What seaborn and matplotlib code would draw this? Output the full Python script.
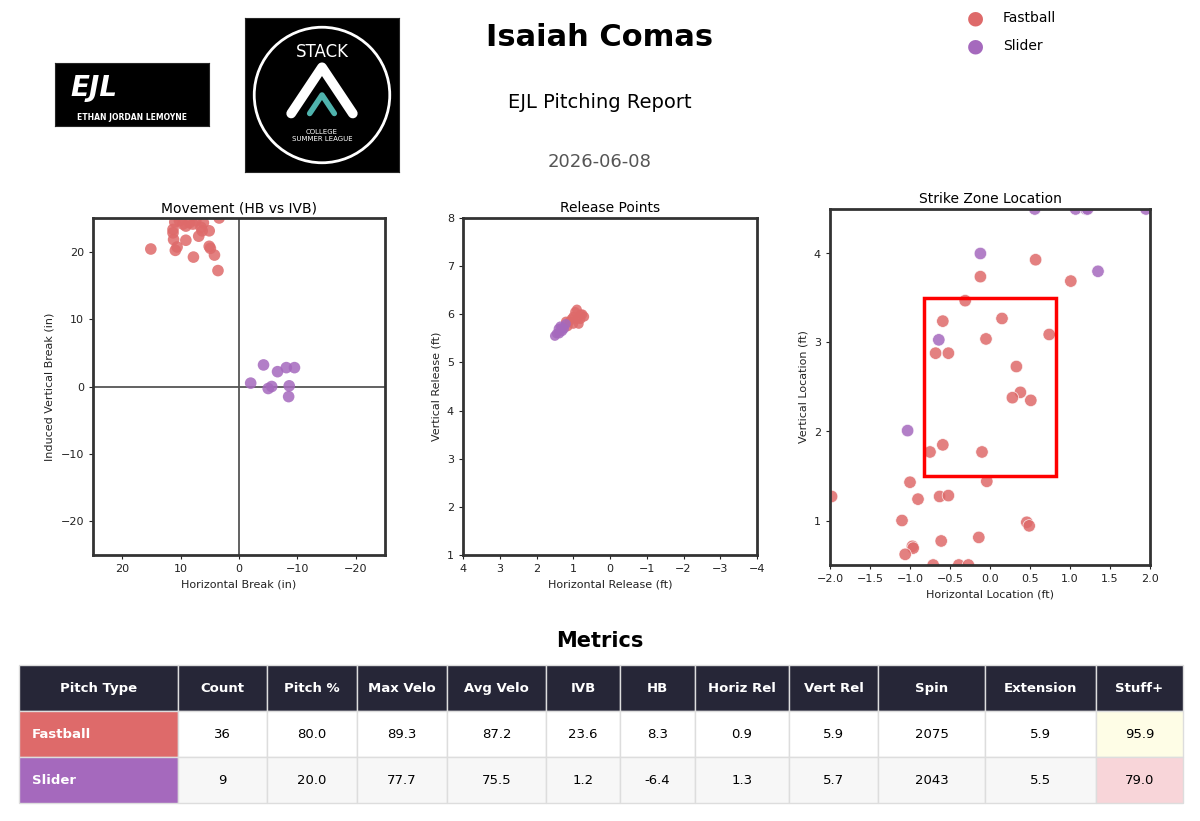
import matplotlib.pyplot as plt
import seaborn as sns
import pandas as pd
from matplotlib.patches import Rectangle

# ---- data ----
fb_hb = [15.1, 11.3, 11.2, 10.9, 10.6, 9.1, 7.8, 6.9, 6.3, 5.1, 5.1, 4.9, 4.2, 3.6,
         11.0, 9.6, 8.5, 7.9, 7.4, 10.2, 9.1, 6.1, 3.4, 11.3, 6.5]
fb_ivb = [20.4, 22.8, 21.8, 20.2, 20.7, 21.7, 19.2, 22.3, 23.1, 23.1, 20.8, 20.5, 19.5, 17.2,
          24.4, 24.1, 24.3, 24.1, 24.6, 24.6, 23.8, 24.3, 25.0, 23.3, 23.6]
sl_hb = [-2.0, -4.2, -5.0, -5.6, -6.6, -8.1, -8.6, -8.5, -9.5]
sl_ivb = [0.5, 3.2, -0.3, 0.0, 2.2, 2.8, 0.1, -1.5, 2.8]

fb_relx = [0.8, 0.9, 1.0, 1.1, 0.95, 0.85, 1.05, 1.15, 0.75, 0.9, 1.0, 0.8, 1.2, 0.7]
fb_relz = [6.0, 5.9, 5.95, 5.85, 6.05, 5.8, 5.9, 5.75, 6.0, 6.1, 5.8, 5.9, 5.85, 5.95]
sl_relx = [1.45, 1.4, 1.3, 1.35, 1.25, 1.5, 1.2, 1.38, 1.3]
sl_relz = [5.6, 5.7, 5.65, 5.75, 5.7, 5.55, 5.8, 5.6, 5.72]

fb_px = [-0.12, 0.57, 1.01, -0.31, -0.59, 0.15, 0.74, -0.05, -0.68, -0.52, 0.33, 0.38, 0.28, 0.51,
         -0.59, -0.75, -0.10, -0.04, -1.0, -1.98, -0.63, -0.52, -0.9, -1.1, 0.46, 0.49, -0.14,
         -0.61, -0.97, -0.96, -1.06, -0.71, -0.39, -0.27]
fb_pz = [3.74, 3.93, 3.69, 3.47, 3.24, 3.27, 3.09, 3.04, 2.88, 2.88, 2.73, 2.44, 2.38, 2.35,
         1.85, 1.77, 1.77, 1.44, 1.43, 1.27, 1.27, 1.28, 1.24, 1.0, 0.98, 0.94, 0.81,
         0.77, 0.71, 0.69, 0.62, 0.5, 0.5, 0.5]
sl_px = [0.56, 1.07, 1.2, 1.22, 1.95, -0.12, 1.35, -0.64, -1.03]
sl_pz = [4.5, 4.5, 4.5, 4.5, 4.5, 4.0, 3.8, 3.03, 2.01]

col_labels = ["Pitch Type", "Count", "Pitch %", "Max Velo", "Avg Velo", "IVB", "HB",
              "Horiz Rel", "Vert Rel", "Spin", "Extension", "Stuff+"]
fastball_row = ["Fastball", "36", "80.0", "89.3", "87.2", "23.6", "8.3", "0.9", "5.9", "2075", "5.9", "95.9"]
slider_row = ["Slider", "9", "20.0", "77.7", "75.5", "1.2", "-6.4", "1.3", "5.7", "2043", "5.5", "79.0"]

colors = {"Fastball": "#de6a6a", "Slider": "#a569bd"}

def frame(xs, ys, name):
    return pd.DataFrame({"x": xs, "y": ys, "pitch": name})

mov = pd.concat([frame(fb_hb, fb_ivb, "Fastball"), frame(sl_hb, sl_ivb, "Slider")])
rel = pd.concat([frame(fb_relx, fb_relz, "Fastball"), frame(sl_relx, sl_relz, "Slider")])
loc = pd.concat([frame(fb_px, fb_pz, "Fastball"), frame(sl_px, sl_pz, "Slider")])

sns.set_style("white")
plt.rcParams.update({"text.color": "black", "axes.labelcolor": "#222222",
                     "xtick.color": "#222222", "ytick.color": "#222222"})
fig = plt.figure(figsize=(12, 8.21), dpi=100)
W, H = 1200, 821

def px_axes(x0, y0, x1, y1):
    return fig.add_axes([x0 / W, 1 - y1 / H, (x1 - x0) / W, (y1 - y0) / H])

# ---- header ----
fig.text(0.5, 1 - 38 / H, "Isaiah Comas", ha="center", va="center", fontsize=22, fontweight="bold")
fig.text(0.5, 1 - 103 / H, "EJL Pitching Report", ha="center", va="center", fontsize=14)
fig.text(0.5, 1 - 162 / H, "2026-06-08", ha="center", va="center", fontsize=13, color="#555555")

lg = px_axes(55, 63, 209, 126)
lg.set_facecolor("black"); lg.set_xticks([]); lg.set_yticks([])
lg.text(0.1, 0.6, "EJL", color="white", fontsize=20, fontweight="bold", fontstyle="italic",
        transform=lg.transAxes, va="center")
lg.text(0.5, 0.13, "ETHAN JORDAN LEMOYNE", color="white", fontsize=5.5, fontweight="bold",
        transform=lg.transAxes, ha="center", va="center")
sk = px_axes(245, 18, 399, 172)
sk.set_facecolor("black"); sk.set_xticks([]); sk.set_yticks([])
sk.add_patch(plt.Circle((0.5, 0.5), 0.44, fill=False, ec="white", lw=2, transform=sk.transAxes))
sk.text(0.5, 0.78, "STACK", color="white", fontsize=12, ha="center", va="center", transform=sk.transAxes)
sk.plot([0.3, 0.5, 0.7], [0.38, 0.68, 0.38], color="white", lw=7, transform=sk.transAxes)
sk.plot([0.42, 0.5, 0.58], [0.38, 0.5, 0.38], color="#4fb3ad", lw=4, transform=sk.transAxes)
sk.text(0.5, 0.24, "COLLEGE\nSUMMER LEAGUE", color="white", fontsize=5, ha="center", va="center",
        transform=sk.transAxes)

for i, (name, c) in enumerate(colors.items()):
    fig.text(975 / W, 1 - (18 + 28 * i) / H, "\u25CF", color=c, fontsize=14, ha="center", va="center")
    fig.text(1003 / W, 1 - (18 + 28 * i) / H, name, fontsize=10, va="center")

def style(ax, title, xlabel, ylabel):
    ax.set_title(title, fontsize=10, pad=4)
    ax.set_xlabel(xlabel, fontsize=8)
    ax.set_ylabel(ylabel, fontsize=8)
    ax.tick_params(labelsize=8, length=3, left=True, bottom=True)
    for s in ax.spines.values():
        s.set_linewidth(2); s.set_color("#333333")

# ---- movement ----
ax1 = px_axes(93, 218, 385, 555)
ax1.axhline(0, color="#555555", lw=1.3, zorder=0)
ax1.axvline(0, color="#555555", lw=1.3, zorder=0)
sns.scatterplot(data=mov, x="x", y="y", hue="pitch", palette=colors, s=70, alpha=0.85,
                edgecolor="none", ax=ax1, legend=False)
ax1.set_xlim(25, -25); ax1.set_ylim(-25, 25)
ax1.set_xticks([20, 10, 0, -10, -20]); ax1.set_yticks([-20, -10, 0, 10, 20])
style(ax1, "Movement (HB vs IVB)", "Horizontal Break (in)", "Induced Vertical Break (in)")

# ---- release ----
ax2 = px_axes(463, 218, 757, 555)
sns.scatterplot(data=rel, x="x", y="y", hue="pitch", palette=colors, s=50, alpha=0.85,
                edgecolor="none", ax=ax2, legend=False)
ax2.set_xlim(4, -4); ax2.set_ylim(1, 8)
style(ax2, "Release Points", "Horizontal Release (ft)", "Vertical Release (ft)")

# ---- location ----
ax3 = px_axes(830, 209, 1150, 565)
sns.scatterplot(data=loc, x="x", y="y", hue="pitch", palette=colors, s=80, alpha=0.85,
                edgecolor="white", linewidth=0.5, ax=ax3, legend=False)
ax3.add_patch(Rectangle((-0.83, 1.5), 1.66, 2.0, fill=False, ec="red", lw=2.5))
ax3.set_xlim(-2, 2); ax3.set_ylim(0.5, 4.5)
ax3.set_xticks([-2, -1.5, -1, -0.5, 0, 0.5, 1, 1.5, 2]); ax3.set_yticks([1, 2, 3, 4])
style(ax3, "Strike Zone Location", "Horizontal Location (ft)", "Vertical Location (ft)")

# ---- metrics table ----
fig.text(0.5, 1 - 641 / H, "Metrics", ha="center", va="center", fontsize=15, fontweight="bold")
tax = px_axes(19, 665, 1183, 803)
tax.axis("off")
col_edges = [19, 178, 267, 357, 447, 546, 620, 695, 789, 878, 985, 1096, 1183]
tot = col_edges[-1] - col_edges[0]
widths = [(col_edges[i + 1] - col_edges[i]) / tot for i in range(len(col_labels))]
cell_colors = [
    [colors["Fastball"]] + ["white"] * 10 + ["#fefde6"],
    [colors["Slider"]] + ["#f7f7f7"] * 10 + ["#f8d5d9"],
]
table = tax.table(cellText=[fastball_row, slider_row], colLabels=col_labels, cellColours=cell_colors,
                  colWidths=widths, cellLoc="center", bbox=[0, 0, 1, 1])
table.auto_set_font_size(False)
for (r, c), cell in table.get_celld().items():
    cell.set_edgecolor("#dddddd")
    cell.set_fontsize(9.5)
    cell.get_text().set_color("black")
    if r == 0:
        cell.set_facecolor("#262637")
        cell.get_text().set_color("white")
        cell.get_text().set_fontweight("bold")
    elif c == 0:
        cell.get_text().set_color("white")
        cell.get_text().set_fontweight("bold")
        cell.get_text().set_ha("left")
        cell.PAD = 0.08

fig.savefig("out.png", dpi=100)
